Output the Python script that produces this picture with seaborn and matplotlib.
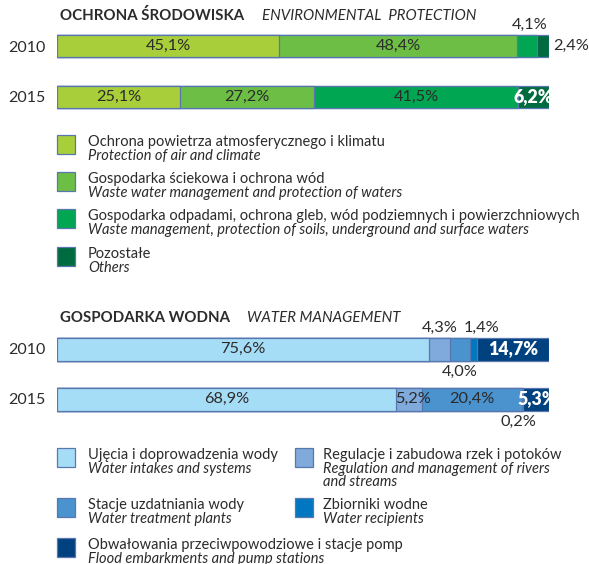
import numpy as np
import pandas as pd
import matplotlib
matplotlib.use('Agg')
import matplotlib.pyplot as plt
from matplotlib.patches import Rectangle
import seaborn as sns

# ---- data ----
years = ['2010', '2015']

env_labels_pl = ['Ochrona powietrza atmosferycznego i klimatu',
                 'Gospodarka ściekowa i ochrona wód',
                 'Gospodarka odpadami, ochrona gleb, wód podziemnych i powierzchniowych',
                 'Pozostałe']
env_labels_en = ['Protection of air and climate',
                 'Waste water management and protection of waters',
                 'Waste management, protection of soils, underground and surface waters',
                 'Others']
env_2010 = [45.1, 48.4, 4.1, 2.4]
env_2015 = [25.1, 27.2, 41.5, 6.2]

water_labels_pl = ['Ujęcia i doprowadzenia wody',
                   'Regulacje i zabudowa rzek i potoków',
                   'Stacje uzdatniania wody',
                   'Zbiorniki wodne',
                   'Obwałowania przeciwpowodziowe i stacje pomp']
water_labels_en = ['Water intakes and systems',
                   'Regulation and management of rivers\nand streams',
                   'Water treatment plants',
                   'Water recipients',
                   'Flood embarkments and pump stations']
water_2010 = [75.6, 4.3, 4.0, 1.4, 14.7]
water_2015 = [68.9, 5.2, 20.4, 0.2, 5.3]

# ---- style ----
env_colors = ['#A8CE3A', '#6CBE45', '#00A651', '#006B3F']
water_colors = ['#A6DDF6', '#80AADB', '#4A93CF', '#0077C0', '#00417F']
EDGE = '#5877AE'
TXT = '#2b2b2b'
VAL_FS = 11.8
LEG_FS = 10.5

# where each value label goes
env_place = [['in', 'in', 'above', 'right'], ['in', 'in', 'in', 'white']]
water_place = [['in', 'above', 'below', 'above', 'white'], ['in', 'in', 'in', 'below', 'white']]
water_nudge = [[0, 0, 0, 8, 0], [0, 4, 0, -4, 1]]
env_nudge = [[0, 0, 3, 0], [0, 0, 0, 0]]

sns.set_theme(style='white')
plt.rcParams['font.family'] = ['Lato', 'DejaVu Sans']

W, H = 589, 564
fig = plt.figure(figsize=(W / 100, H / 100), dpi=100)


def px_axes(left, top, width, height):
    return fig.add_axes([left / W, 1 - (top + height) / H, width / W, height / H])


def draw_stacked(ax, series, colors, place, nudge, bar_w):
    df = pd.DataFrame({'year': np.repeat(years, len(colors)),
                       'seg': np.tile(np.arange(len(colors)), len(years)),
                       'value': np.concatenate(series)})
    df['cum'] = df.groupby('year')['value'].cumsum()
    df['start'] = df['cum'] - df['value']
    # draw from the longest cumulative bar down, so each segment shows on top
    for i in reversed(range(len(colors))):
        sns.barplot(data=df[df['seg'] == i], x='cum', y='year', order=years,
                    orient='h', color=colors[i], saturation=1, width=bar_w,
                    edgecolor=EDGE, linewidth=0.9, ax=ax)
    for _, r in df.iterrows():
        yi = years.index(r['year'])
        k = int(r['seg'])
        p = place[yi][k]
        dx = nudge[yi][k]
        lab = f"{r['value']:.1f}%".replace('.', ',')
        xc = r['start'] + r['value'] / 2
        if p == 'in':
            ax.annotate(lab, (xc, yi), xytext=(dx, 0), textcoords='offset pixels',
                        ha='center', va='center', fontsize=VAL_FS, color=TXT)
        elif p == 'white':
            ax.annotate(lab, (xc, yi), xytext=(dx, 0), textcoords='offset pixels',
                        ha='center', va='center', fontsize=12.8, color='white',
                        fontweight='heavy')
        elif p == 'above':
            ax.annotate(lab, (xc, yi - bar_w / 2), xytext=(dx, 3), textcoords='offset pixels',
                        ha='center', va='bottom', fontsize=VAL_FS, color=TXT)
        elif p == 'below':
            ax.annotate(lab, (xc, yi + bar_w / 2), xytext=(dx, -4), textcoords='offset pixels',
                        ha='center', va='top', fontsize=VAL_FS, color=TXT)
        elif p == 'right':
            ax.annotate(lab, (r['cum'], yi), xytext=(4, 0), textcoords='offset pixels',
                        ha='left', va='center', fontsize=VAL_FS, color=TXT)
    ax.set_xlim(0, 100)
    ax.set_ylim(1.5, -0.5)
    ax.set_xlabel('')
    ax.set_ylabel('')
    ax.set_xticks([])
    ax.tick_params(axis='y', length=0, pad=8, labelsize=11.5, labelcolor=TXT)
    sns.despine(ax=ax, left=True, bottom=True)
    ax.patch.set_alpha(0)


def legend_entry(x, top, color, pl, en, text_x):
    fig.patches.append(Rectangle((x / W, 1 - (top + 19) / H), 18 / W, 19 / H,
                                 transform=fig.transFigure, facecolor=color,
                                 edgecolor=EDGE, linewidth=0.9))
    fig.text(text_x / W, 1 - (top + 7) / H, pl, ha='left', va='center',
             fontsize=LEG_FS, color=TXT)
    fig.text(text_x / W, 1 - (top + 14) / H, en, ha='left', va='top',
             fontsize=LEG_FS, color=TXT, style='italic', linespacing=0.92)


# ---- top chart ----
ax1 = px_axes(57, 20.5, 492, 102)
draw_stacked(ax1, [env_2010, env_2015], env_colors, env_place, env_nudge, 0.45)
fig.text(60 / W, 1 - 16 / H, 'OCHRONA ŚRODOWISKA', ha='left', va='center',
         fontsize=10.8, fontweight='bold', color=TXT)
fig.text(262 / W, 1 - 16 / H, 'ENVIRONMENTAL  PROTECTION', ha='left', va='center',
         fontsize=10.8, style='italic', color=TXT)
for i, top in enumerate([135, 172, 209, 247]):
    legend_entry(57, top, env_colors[i], env_labels_pl[i], env_labels_en[i], 88)

# ---- bottom chart ----
ax2 = px_axes(57, 324, 492, 100)
draw_stacked(ax2, [water_2010, water_2015], water_colors, water_place, water_nudge, 0.46)
fig.text(60 / W, 1 - 318 / H, 'GOSPODARKA WODNA', ha='left', va='center',
         fontsize=10.8, fontweight='bold', color=TXT)
fig.text(247 / W, 1 - 318 / H, 'WATER MANAGEMENT', ha='left', va='center',
         fontsize=10.8, style='italic', color=TXT)
slots = [(57, 448, 88), (295, 448, 323), (57, 498, 88), (295, 498, 323), (57, 538, 88)]
for i, (x, top, tx) in enumerate(slots):
    legend_entry(x, top, water_colors[i], water_labels_pl[i], water_labels_en[i], tx)

fig.savefig('out.png', dpi=100)
